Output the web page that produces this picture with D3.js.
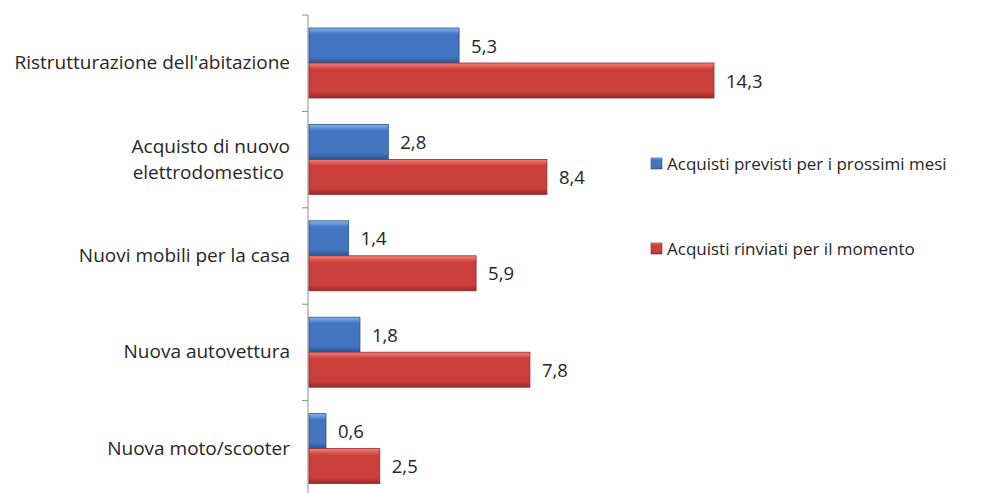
<!DOCTYPE html>
<html>
<head>
<meta charset="utf-8">
<script src="https://cdn.jsdelivr.net/npm/d3@7.9.0/dist/d3.min.js"></script>
<style>
  body { margin: 0; background: #fff; }
  text { font-family: "Open Sans", "Noto Sans", sans-serif; fill: #262626; }
</style>
</head>
<body>
<div id="chart"></div>
<script>
const categories = [
  ["Ristrutturazione dell'abitazione"],
  ["Acquisto di nuovo", "elettrodomestico"],
  ["Nuovi mobili per la casa"],
  ["Nuova autovettura"],
  ["Nuova moto/scooter"]
];
const seriesNames = ["Acquisti previsti per i prossimi mesi", "Acquisti rinviati per il momento"];
const previsti = [5.3, 2.8, 1.4, 1.8, 0.6];
const rinviati = [14.3, 8.4, 5.9, 7.8, 2.5];

const width = 981, height = 493;
const svg = d3.select("#chart").append("svg")
  .attr("width", width).attr("height", height);

const defs = svg.append("defs");
const palettes = [
  { id: "gBlue", top: "#86b4ee", mid: "#4376c0", bot: "#2a5592", stroke: "#2a5590" },
  { id: "gRed", top: "#f7807c", mid: "#cc403c", bot: "#982a28", stroke: "#8f2a28" }
];
palettes.forEach(p => {
  const g = defs.append("linearGradient").attr("id", p.id)
    .attr("x1", 0).attr("y1", 0).attr("x2", 0).attr("y2", 1);
  g.append("stop").attr("offset", "0%").attr("stop-color", p.top);
  g.append("stop").attr("offset", "18%").attr("stop-color", p.mid);
  g.append("stop").attr("offset", "82%").attr("stop-color", p.mid);
  g.append("stop").attr("offset", "100%").attr("stop-color", p.bot);
});

const x0 = 309;
const x = d3.scaleLinear().domain([0, 14.3]).range([x0, 714]);
const idx = d3.range(categories.length);
const y = d3.scaleBand().domain(idx).range([15, 15 + 96.4 * 5]).padding(0);
const ySub = d3.scaleBand().domain([0, 1]).range([13, 83]).padding(0);

const data = idx.map(i => [previsti[i], rinviati[i]]);

// axis
const ag = svg.append("g").attr("transform", `translate(${x0 - 1},0)`);
ag.append("line").attr("y1", y.range()[0]).attr("y2", y.range()[1]).attr("stroke", "#8c8c8c");
idx.concat([idx.length]).forEach(i => {
  const yy = i < idx.length ? y(i) : y.range()[1];
  ag.append("line").attr("x1", -6).attr("x2", 0).attr("y1", yy).attr("y2", yy).attr("stroke", "#8c8c8c");
});

// category labels
categories.forEach((lines, i) => {
  const cy = y(i) + y.bandwidth() / 2;
  const t = svg.append("text").attr("text-anchor", "end")
    .style("font-size", "19px");
  lines.forEach((l, k) => {
    t.append("tspan").attr("x", k === 1 ? 284 : 290)
      .attr("y", cy + 6 + (k - (lines.length - 1) / 2) * 26).text(l);
  });
});

// bars
const groups = svg.selectAll("g.grp").data(data).join("g")
  .attr("class", "grp").attr("transform", (d, i) => `translate(0,${y(i)})`);
groups.selectAll("rect").data(d => d).join("rect")
  .attr("x", x0)
  .attr("y", (d, j) => ySub(j))
  .attr("width", d => x(d) - x0)
  .attr("height", ySub.bandwidth())
  .attr("fill", (d, j) => `url(#${palettes[j].id})`)
  .attr("stroke", (d, j) => palettes[j].stroke)
  .attr("stroke-width", 0.8);
groups.selectAll("text").data(d => d).join("text")
  .attr("x", d => x(d) + 12)
  .attr("y", (d, j) => ySub(j) + ySub.bandwidth() / 2 + 7)
  .style("font-size", "18.5px")
  .text(d => d3.format(".1f")(d).replace(".", ","));

// legend
const lg = svg.append("g");
seriesNames.forEach((n, j) => {
  const ly = [163, 248][j];
  lg.append("rect").attr("x", 651).attr("y", ly - 5).attr("width", 11).attr("height", 11)
    .attr("fill", `url(#${palettes[j].id})`).attr("stroke", palettes[j].stroke).attr("stroke-width", 0.6);
  lg.append("text").attr("x", 667).attr("y", ly + 7).style("font-size", "17px").text(n);
});
</script>
</body>
</html>
